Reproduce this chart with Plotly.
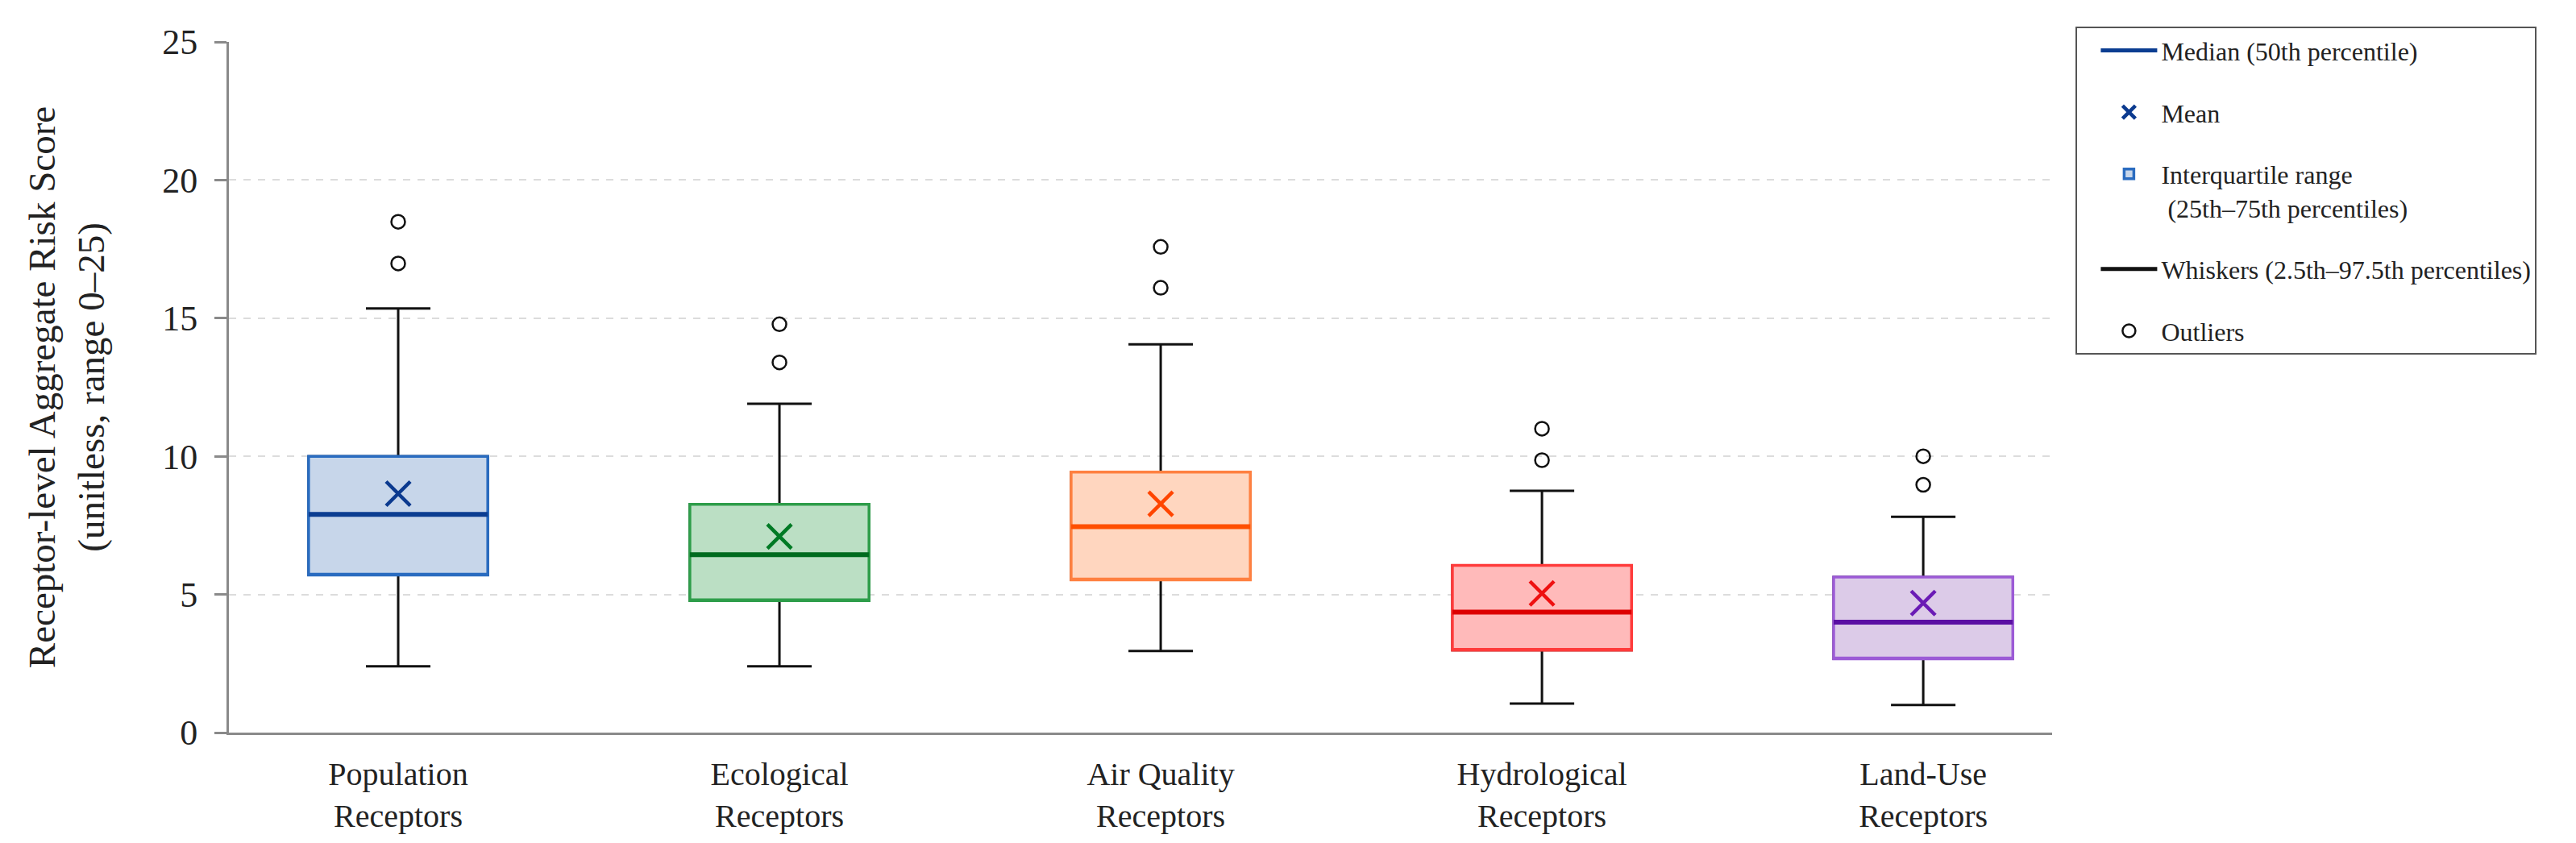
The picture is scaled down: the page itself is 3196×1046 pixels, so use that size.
import plotly.graph_objects as go

# receptor categories and box statistics
categories = ["Population<br>Receptors", "Ecological<br>Receptors", "Air Quality<br>Receptors",
              "Hydrological<br>Receptors", "Land-Use<br>Receptors"]
lowerWhisker = [2.4, 2.4, 2.95, 1.05, 1.0]
q1Values = [5.7, 4.78, 5.53, 2.98, 2.67]
medianValues = [7.9, 6.44, 7.45, 4.36, 4.0]
meanValues = [8.65, 7.1, 8.28, 5.04, 4.69]
q3Values = [10.0, 8.26, 9.43, 6.05, 5.63]
upperWhisker = [15.35, 11.9, 14.05, 8.75, 7.81]
outliers = [[16.98, 18.49], [13.4, 14.78], [16.1, 17.58], [9.86, 11.0], [8.97, 10.0]]

fillColors = ["#c7d6ea", "#bbdfc4", "#ffd6bf", "#ffbaba", "#dccbe8"]
edgeColors = ["#2a6cc0", "#2e9d4a", "#ff8040", "#ff3b3b", "#9c5bd6"]
medianColors = ["#0b3d91", "#006b1f", "#ff4f00", "#dd0000", "#5a0fa3"]
meanColors = ["#0b3a8f", "#007a25", "#ff4500", "#ee1111", "#6a1bb5"]

fontFamily = "Liberation Serif"
boxWidth = 0.47

fig = go.Figure()

for i, cat in enumerate(categories):
    first = (i == 0)

    # whiskers (black), box outline gets covered by the coloured box drawn next
    fig.add_trace(go.Box(
        x=[cat], q1=[q1Values[i]], median=[medianValues[i]], q3=[q3Values[i]],
        lowerfence=[lowerWhisker[i]], upperfence=[upperWhisker[i]],
        width=boxWidth, whiskerwidth=0.36,
        line=dict(color="#111111", width=3), fillcolor="rgba(0,0,0,0)",
        showlegend=False, hoverinfo="skip"))

    # interquartile box
    fig.add_trace(go.Box(
        x=[cat], q1=[q1Values[i]], median=[q1Values[i]], q3=[q3Values[i]],
        lowerfence=[q1Values[i]], upperfence=[q3Values[i]],
        width=boxWidth, whiskerwidth=0,
        line=dict(color=edgeColors[i], width=3.5), fillcolor=fillColors[i],
        name="Interquartile range<br> (25th–75th percentiles)",
        legendgroup="iqr", legendrank=3, showlegend=first, hoverinfo="skip"))

    # median line, drawn as a flat box
    fig.add_trace(go.Box(
        x=[cat], q1=[medianValues[i]], median=[medianValues[i]], q3=[medianValues[i]],
        lowerfence=[medianValues[i]], upperfence=[medianValues[i]],
        width=boxWidth, whiskerwidth=0,
        line=dict(color=medianColors[i], width=6), fillcolor=medianColors[i],
        showlegend=False, hoverinfo="skip"))

    # mean
    fig.add_trace(go.Scatter(
        x=[cat], y=[meanValues[i]], mode="markers",
        marker=dict(symbol="x-thin", size=30, line=dict(color=meanColors[i], width=4.5)),
        name="Mean", legendgroup="mean", legendrank=2, showlegend=first, hoverinfo="skip"))

    # outliers
    fig.add_trace(go.Scatter(
        x=[cat] * len(outliers[i]), y=outliers[i], mode="markers",
        marker=dict(symbol="circle-open", size=17, color="#111111", line=dict(width=2.5)),
        name="Outliers", legendgroup="out", legendrank=5, showlegend=first, hoverinfo="skip"))

# legend-only entries for the line keys
fig.add_trace(go.Scatter(x=[None], y=[None], mode="lines",
                         line=dict(color="#0b3d91", width=5),
                         name="Median (50th percentile)", legendgroup="med", legendrank=1))
fig.add_trace(go.Scatter(x=[None], y=[None], mode="lines",
                         line=dict(color="#111111", width=5),
                         name="Whiskers (2.5th–97.5th percentiles)", legendgroup="whisk", legendrank=4))

fig.update_layout(
    width=3196, height=1046,
    margin=dict(l=276, r=658, t=44, b=145),
    paper_bgcolor="white", plot_bgcolor="white",
    font=dict(family=fontFamily, color="#222222"),
    boxmode="overlay",
    legend=dict(
        x=1.013, y=1.022, xanchor="left", yanchor="top",
        bgcolor="white", bordercolor="#555555", borderwidth=2,
        font=dict(family=fontFamily, size=32, color="#222222"),
        itemwidth=70, tracegroupgap=32, valign="top", indentation=24,
        traceorder="grouped",
    ),
)

fig.update_xaxes(
    type="category", categoryorder="array", categoryarray=categories,
    range=[-0.444, 4.338],
    showline=True, linecolor="#8a8a8a", linewidth=3,
    showgrid=False, ticks="", ticklabelstandoff=14,
    tickfont=dict(family=fontFamily, size=40, color="#222222"),
)

fig.update_yaxes(
    range=[0, 25], dtick=5, tick0=0,
    showline=True, linecolor="#8a8a8a", linewidth=3,
    ticks="outside", ticklen=15, tickwidth=3, tickcolor="#8a8a8a",
    ticklabelstandoff=12,
    showgrid=True, gridcolor="#dcdcdc", gridwidth=1.5, griddash="dash",
    zeroline=False,
    tickfont=dict(family=fontFamily, size=44, color="#222222"),
    title=dict(text="Receptor-level Aggregate Risk Score<br>(unitless, range 0–25)",
               font=dict(family=fontFamily, size=47, color="#222222"), standoff=57),
)

fig.write_html("out.html")
